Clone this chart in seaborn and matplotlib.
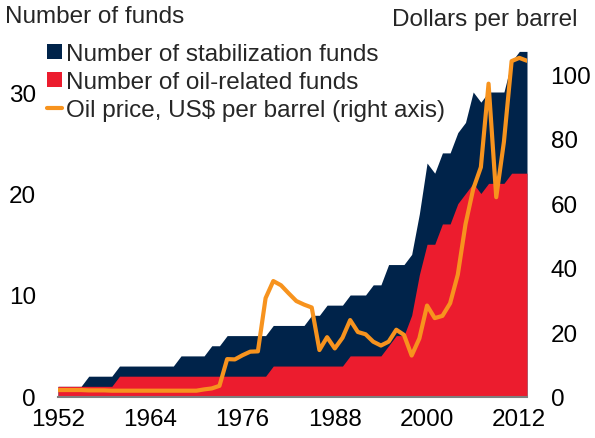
import matplotlib
matplotlib.use("Agg")
import matplotlib.pyplot as plt
import seaborn as sns
import pandas as pd
from matplotlib.patches import Patch
from matplotlib.lines import Line2D

years = list(range(1952, 2014))

stabilization_funds = [1, 1, 1, 1, 2, 2, 2, 2,
                       3, 3, 3, 3, 3, 3, 3, 3,
                       4, 4, 4, 4, 5, 5,
                       6, 6, 6, 6, 6, 6,
                       7, 7, 7, 7, 7, 8, 8,
                       9, 9, 9, 10, 10, 10, 11, 11,
                       13, 13, 13, 14, 18, 23, 22,
                       24, 24, 26, 27, 30, 29, 30, 30, 30, 33, 34, 34]

oil_related_funds = [1, 1, 1, 1, 1, 1, 1, 1,
                     2, 2, 2, 2, 2, 2, 2, 2, 2, 2, 2, 2, 2, 2, 2, 2, 2, 2, 2, 2,
                     3, 3, 3, 3, 3, 3, 3, 3, 3, 3,
                     4, 4, 4, 4, 4,
                     5, 6, 6, 8, 12, 15, 15,
                     17, 17, 19, 20, 21, 20, 21, 21, 21, 22, 22, 22]

oil_price = [2.0, 2.0, 2.0, 2.0, 1.9, 1.9, 1.9, 1.8,
             1.8, 1.8, 1.8, 1.8, 1.8, 1.8, 1.8, 1.8, 1.8, 1.8, 1.8,
             2.2, 2.5, 3.3, 11.6, 11.5, 12.8, 13.9, 14.0, 30.5,
             35.8, 34.5, 32.0, 29.6, 28.5, 27.6, 14.4, 18.4, 14.9, 18.2,
             23.7, 20.0, 19.3, 17.0, 15.8, 17.0, 20.7, 19.1, 12.7, 18.0,
             28.2, 24.3, 25.0, 28.9, 37.8, 53.4, 64.3, 71.1, 97.0, 61.8,
             79.0, 104.0, 105.0, 104.1]

labels = ["Number of stabilization funds", "Number of oil-related funds",
          "Oil price, US$ per barrel (right axis)"]
x_ticks = [1952, 1964, 1976, 1988, 2000, 2012]

NAVY = "#00234a"
RED = "#ec1c2e"
ORANGE = "#f7931e"

df = pd.DataFrame({"year": years, "stab": stabilization_funds,
                   "oil_rel": oil_related_funds, "price": oil_price})

sns.set_theme(style="white")
plt.rcParams["font.family"] = ["Liberation Sans", "DejaVu Sans"]
FS = 17.5

fig = plt.figure(figsize=(5.95, 4.39), dpi=100)
ax = fig.add_axes([58 / 595, (439 - 397.5) / 439, 469 / 595, 355.25 / 439])

ax.fill_between(df["year"], 0, df["stab"], color=NAVY, linewidth=0)
ax.fill_between(df["year"], 0, df["oil_rel"], color=RED, linewidth=0)
ax.set_xlim(1952, 2013)
ax.set_ylim(0, 35)
ax.set_yticks([0, 10, 20, 30])
ax.set_xticks(x_ticks)
ax.set_xticklabels([str(t) for t in x_ticks])
for s in ["top", "left", "right"]:
    ax.spines[s].set_visible(False)
ax.spines["bottom"].set_color("#7f7f7f")
ax.spines["bottom"].set_linewidth(1.5)
ax.tick_params(axis="y", length=0, pad=16, labelsize=FS, colors="black")
ax.tick_params(axis="x", length=0, pad=8, labelsize=FS, colors="black")
ax.set_xlabel("")
ax.set_ylabel("")

ax2 = ax.twinx()
sns.lineplot(data=df, x="year", y="price", ax=ax2, color=ORANGE, linewidth=3,
             legend=False)
ax2.set_ylim(0, 35 * 10.15 / 3.225)
ax2.set_yticks([0, 20, 40, 60, 80, 100])
ax2.set_xlim(1952, 2013)
for s in ["top", "left", "right", "bottom"]:
    ax2.spines[s].set_visible(False)
ax2.tick_params(axis="y", length=0, pad=17, labelsize=FS, colors="black")
ax2.set_ylabel("")
ax2.set_xlabel("")
ax2.grid(False)
ax.grid(False)

fig.text(5 / 595, 1 - 17 / 439, "Number of funds", fontsize=FS, va="center", ha="left")
fig.text(578 / 595, 1 - 20 / 439, "Dollars per barrel", fontsize=FS, va="center", ha="right")

handles = [Patch(facecolor=NAVY, edgecolor="none"),
           Patch(facecolor=RED, edgecolor="none"),
           Line2D([0], [0], color=ORANGE, linewidth=3)]
fig.legend(handles, labels, loc="upper left",
           bbox_to_anchor=(47 / 595, 1 - 44 / 439), frameon=False,
           fontsize=FS, handlelength=0.6, handleheight=0.55,
           handletextpad=0.2, labelspacing=0.25, borderpad=0, borderaxespad=0)

fig.savefig("out.png", dpi=100)
